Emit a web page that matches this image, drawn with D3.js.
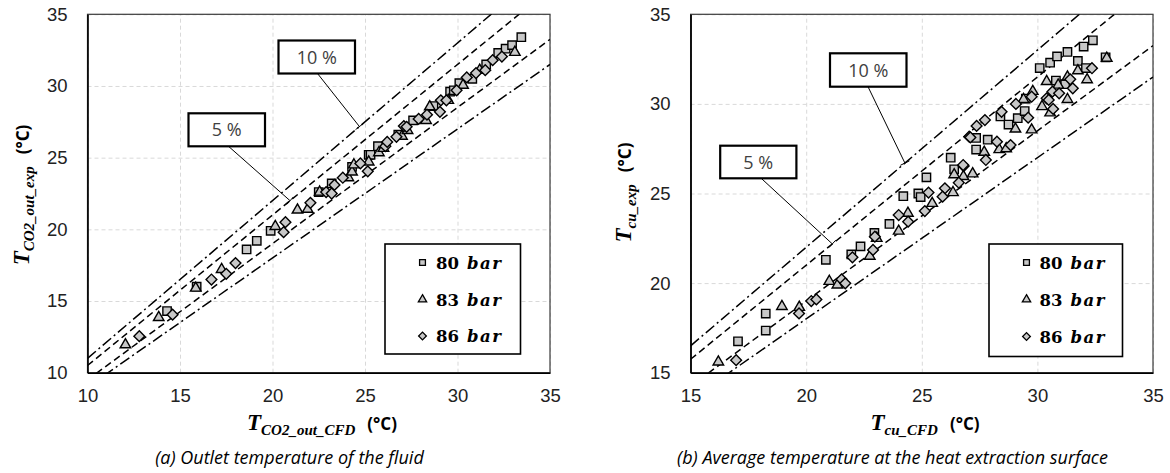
<!DOCTYPE html>
<html>
<head>
<meta charset="utf-8">
<script src="https://cdn.jsdelivr.net/npm/d3@7"></script>
<style>
  body { margin: 0; background: #fff; }
  svg { display: block; }
</style>
</head>
<body>
<svg id="chart" width="1170" height="473"></svg>
<script>
// panel (a): outlet temperature of the fluid
var a80x = [14.3, 15.9, 18.6, 19.15, 19.9, 22.5, 23.2, 24.3, 25.2, 25.3, 25.7, 26.8, 27.6, 28.7, 29.6, 29.8, 30.1, 30.8, 31.55, 32.2, 32.6, 32.95, 33.45];
var a80y = [14.3, 16.0, 18.6, 19.2, 19.9, 22.6, 23.2, 24.35, 25.2, 25.2, 25.8, 26.6, 27.6, 28.6, 29.6, 29.7, 30.2, 30.5, 31.5, 32.3, 32.6, 32.85, 33.4];
var a83x = [12.05, 13.85, 15.85, 17.25, 20.15, 21.35, 21.9, 22.55, 24.1, 24.3, 24.4, 25.2, 25.75, 26.0, 27.0, 27.3, 28.3, 28.5, 29.5, 30.3, 31.2, 33.1];
var a83y = [11.95, 13.85, 15.9, 17.2, 20.2, 21.35, 21.4, 22.6, 23.6, 24.0, 24.5, 24.7, 25.35, 25.65, 26.5, 26.9, 27.6, 28.55, 29.0, 30.05, 31.1, 32.35];
var a86x = [12.8, 14.6, 16.7, 17.5, 18.0, 20.6, 20.7, 22.05, 22.9, 23.2, 23.35, 23.8, 24.75, 25.15, 26.1, 26.2, 26.7, 27.1, 27.25, 27.9, 28.35, 29.05, 29.1, 29.4, 29.95, 30.5, 31.0, 31.5, 31.9, 32.4];
var a86y = [12.55, 14.05, 16.5, 16.9, 17.65, 19.8, 20.5, 21.85, 22.6, 22.5, 23.1, 23.6, 24.6, 24.05, 25.8, 26.1, 26.45, 27.2, 27.15, 27.7, 28.0, 28.2, 29.0, 29.0, 29.7, 30.6, 30.9, 31.1, 31.8, 32.05];

// panel (b): average temperature at the heat extraction surface
var b80x = [17.05, 18.25, 18.25, 20.85, 21.95, 22.35, 22.95, 23.6, 24.2, 24.85, 24.95, 25.2, 26.25, 26.4, 27.35, 27.35, 27.85, 28.4, 28.75, 29.15, 29.45, 29.5, 30.1, 30.55, 30.8, 30.85, 31.2, 31.3, 31.75, 32.0, 32.1, 32.4, 32.95];
var b80y = [16.75, 17.35, 18.3, 21.3, 21.6, 22.05, 22.8, 23.3, 24.85, 25.0, 24.8, 25.9, 27.0, 26.35, 27.45, 28.1, 28.0, 29.3, 28.85, 29.2, 29.6, 30.3, 32.0, 32.3, 31.3, 32.65, 31.1, 32.9, 32.4, 33.2, 32.0, 33.55, 32.6];
var b83x = [16.2, 18.95, 19.7, 21.0, 21.35, 22.75, 23.05, 24.0, 24.4, 25.45, 26.35, 26.4, 26.8, 27.2, 27.7, 28.35, 28.65, 29.05, 29.4, 29.75, 29.8, 30.2, 30.4, 30.55, 30.9, 31.3, 31.3, 31.75, 32.15, 33.0];
var b83y = [15.6, 18.7, 18.65, 20.1, 19.9, 21.5, 22.5, 22.9, 23.9, 24.45, 25.05, 26.05, 25.95, 26.1, 27.3, 27.45, 27.5, 28.6, 30.25, 28.55, 30.7, 29.85, 31.25, 29.5, 31.05, 31.5, 30.25, 31.85, 31.35, 32.55];
var b86x = [16.97, 19.69, 20.22, 20.44, 21.53, 21.69, 22.0, 22.89, 22.97, 24.0, 24.41, 25.13, 25.29, 26.0, 25.9, 26.81, 26.6, 26.79, 27.05, 27.1, 27.37, 27.73, 28.25, 28.84, 27.77, 28.45, 29.07, 29.75, 29.6, 30.4, 30.65, 30.68, 30.94, 30.49, 31.53, 31.42, 32.36];
var b86y = [15.7, 18.31, 19.0, 19.09, 20.21, 19.99, 21.44, 21.85, 22.59, 23.8, 23.43, 24.02, 25.05, 25.29, 24.82, 26.53, 25.6, 26.59, 28.17, 28.13, 28.77, 29.1, 27.89, 27.7, 26.87, 29.56, 30.0, 30.4, 29.23, 30.31, 30.68, 29.72, 30.59, 30.22, 30.87, 31.37, 31.99];

var ticksA = [10, 15, 20, 25, 30, 35];
var ticksB = [15, 20, 25, 30, 35];
var bandFactors = [1.1, 1.05, 0.95, 0.9];   // +-10 %, +-5 %
var pressures = ["80", "83", "86"];
var bandLabels = ["10 %", "5 %"];

var svg = d3.select("#chart");
svg.append("rect").attr("width", 1170).attr("height", 473).attr("fill", "#fff");

var shapes = [d3.symbolSquare, d3.symbolTriangle, d3.symbolSquare];
var sizes = [70, 48, 58];
var legendSizes = [34, 30, 30];
var rotations = [0, 0, 45];

function drawPanel(p) {
    var x = d3.scaleLinear().domain(p.domain).range([p.left, p.right]);
    var y = d3.scaleLinear().domain(p.domain).range([p.bottom, p.top]);
    var g = svg.append("g");
    var w = p.right - p.left, h = p.bottom - p.top;

    // grid
    g.append("g")
        .attr("transform", "translate(0," + p.bottom + ")")
        .call(d3.axisBottom(x).tickValues(p.ticks).tickSize(-h).tickFormat(""))
        .call(function (s) { s.select(".domain").remove(); })
        .selectAll("line").attr("stroke", "#d9d9d9").attr("stroke-dasharray", "4,3");
    g.append("g")
        .attr("transform", "translate(" + p.left + ",0)")
        .call(d3.axisLeft(y).tickValues(p.ticks).tickSize(-w).tickFormat(""))
        .call(function (s) { s.select(".domain").remove(); })
        .selectAll("line").attr("stroke", "#d9d9d9").attr("stroke-dasharray", "4,3");

    // frame
    g.append("rect").attr("x", p.left).attr("y", p.top).attr("width", w).attr("height", h)
        .attr("fill", "none").attr("stroke", "#3a3a3a").attr("stroke-width", 1.2);

    // tick labels
    var xa = g.append("g").attr("transform", "translate(0," + p.bottom + ")")
        .call(d3.axisBottom(x).tickValues(p.ticks).tickSize(0).tickPadding(16));
    var ya = g.append("g").attr("transform", "translate(" + p.left + ",0)")
        .call(d3.axisLeft(y).tickValues(p.ticks).tickSize(0).tickPadding(20));
    [xa, ya].forEach(function (a) {
        a.select(".domain").attr("stroke", "#000").attr("stroke-width", 1.6);
        a.selectAll("text").attr("font-family", "Liberation Sans").attr("font-size", 18.5).attr("fill", "#222");
    });

    // error band lines
    var clipId = "clip" + p.id;
    svg.append("clipPath").attr("id", clipId).append("rect")
        .attr("x", p.left).attr("y", p.top).attr("width", w).attr("height", h);
    var line = d3.line().x(function (d) { return x(d[0]); }).y(function (d) { return y(d[1]); });
    g.append("g").attr("clip-path", "url(#" + clipId + ")")
        .selectAll("path").data(bandFactors).enter().append("path")
        .attr("d", function (k) { return line([[p.domain[0], k * p.domain[0]], [p.domain[1], k * p.domain[1]]]); })
        .attr("fill", "none").attr("stroke", "#000").attr("stroke-width", 1.5)
        .attr("stroke-dasharray", function (k) { return Math.abs(k - 1) > 0.07 ? "11,3.5,2,3.5" : "7,4"; });

    // band labels with leader lines
    p.notes.forEach(function (n, i) {
        var k = i === 0 ? 1.1 : 1.05;
        var ex = x(n.at), ey = y(k * n.at);
        var sx = n.bx + n.lead, sy = n.by + n.bh;
        g.append("line").attr("x1", sx).attr("y1", sy).attr("x2", ex).attr("y2", ey)
            .attr("stroke", "#000").attr("stroke-width", 1);
        var dx = ex - sx, dy = ey - sy, len = Math.sqrt(dx * dx + dy * dy);
        var nx = -dy / len * 5, ny = dx / len * 5;
        g.append("line").attr("x1", ex - nx).attr("y1", ey - ny).attr("x2", ex + nx).attr("y2", ey + ny)
            .attr("stroke", "#000").attr("stroke-width", 1);
        g.append("rect").attr("x", n.bx).attr("y", n.by).attr("width", n.bw).attr("height", n.bh)
            .attr("fill", "#fff").attr("stroke", "#000").attr("stroke-width", 2.2);
        g.append("text").attr("x", n.bx + n.bw / 2).attr("y", n.by + n.bh / 2 + 6.5)
            .attr("text-anchor", "middle").attr("font-family", "Open Sans").attr("font-size", 18)
            .attr("fill", "#404040").text(bandLabels[i]);
    });

    // markers
    p.series.forEach(function (s, i) {
        var pts = s[0].map(function (v, j) { return [v, s[1][j]]; });
        g.append("g").selectAll("path").data(pts).enter().append("path")
            .attr("d", d3.symbol().type(shapes[i]).size(sizes[i]))
            .attr("transform", function (d) {
                return "translate(" + x(d[0]) + "," + y(d[1]) + ") rotate(" + rotations[i] + ")";
            })
            .attr("fill", "#c8c8c8").attr("stroke", "#000").attr("stroke-width", 1.4);
    });

    // legend
    var L = p.legend;
    g.append("rect").attr("x", L.x).attr("y", L.y).attr("width", L.w).attr("height", L.h)
        .attr("fill", "#fff").attr("stroke", "#000").attr("stroke-width", 1.6);
    pressures.forEach(function (name, i) {
        var ry = L.rows[i];
        g.append("path").attr("d", d3.symbol().type(shapes[i]).size(legendSizes[i]))
            .attr("transform", "translate(" + L.mx + "," + ry + ") rotate(" + rotations[i] + ")")
            .attr("fill", "#c8c8c8").attr("stroke", "#000").attr("stroke-width", 1.3);
        var t = g.append("text").attr("x", L.tx).attr("y", ry + 6)
            .attr("font-family", "DejaVu Serif").attr("font-weight", "bold").attr("font-size", 16.5).attr("fill", "#000");
        t.append("tspan").text(name);
        t.append("tspan").attr("dx", 8).attr("font-style", "italic").attr("letter-spacing", 1.5).text("bar");
    });

    // axis titles
    function title(sel, sub) {
        sel.append("tspan").attr("font-family", "Liberation Serif").attr("font-weight", "bold")
            .attr("font-style", "italic").attr("font-size", 23).text("T");
        sel.append("tspan").attr("font-family", "Liberation Serif").attr("font-weight", "bold")
            .attr("font-style", "italic").attr("font-size", 15).attr("dy", 5).text(sub);
        sel.append("tspan").attr("font-family", "Open Sans").attr("font-weight", "bold")
            .attr("font-size", 17).attr("dx", 12).attr("dy", -5).text("(°C)");
    }
    title(g.append("text").attr("x", p.xtX).attr("y", 430).attr("text-anchor", "middle").attr("fill", "#000"), p.xsub);
    title(g.append("text").attr("transform", "translate(" + p.ytX + "," + p.ytY + ") rotate(-90)")
        .attr("text-anchor", "middle").attr("fill", "#000"), p.ysub);

    // caption
    g.append("text").attr("x", p.capX).attr("y", 464).attr("text-anchor", "middle")
        .attr("font-family", "Open Sans").attr("font-style", "italic").attr("font-size", 18)
        .attr("fill", "#000").text(p.caption);
}

drawPanel({
    id: "a", domain: [10, 35], ticks: ticksA,
    left: 87.5, right: 550, top: 14.3, bottom: 372.7,
    series: [[a80x, a80y], [a83x, a83y], [a86x, a86y]],
    notes: [
        { at: 24.7, bx: 278.5, by: 40.5, bw: 76.5, bh: 33, lead: 39 },
        { at: 20.95, bx: 188.5, by: 113.3, bw: 76.5, bh: 33, lead: 40 }
    ],
    legend: { x: 385, y: 244, w: 135.5, h: 110, mx: 422.5, tx: 436, rows: [262.5, 299.5, 336] },
    xsub: "CO2_out_CFD", ysub: "CO2_out_exp",
    xtX: 322, ytX: 29, ytY: 195,
    capX: 289.5, caption: "(a) Outlet temperature of the fluid"
});

drawPanel({
    id: "b", domain: [15, 35], ticks: ticksB,
    left: 690.6, right: 1153, top: 14.3, bottom: 372.7,
    series: [[b80x, b80y], [b83x, b83y], [b86x, b86y]],
    notes: [
        { at: 24.27, bx: 830, by: 53.3, bw: 76.5, bh: 33.4, lead: 38 },
        { at: 21.13, bx: 720.2, by: 145.7, bw: 76.2, bh: 32.6, lead: 41 }
    ],
    legend: { x: 989, y: 244, w: 133.5, h: 112.5, mx: 1026.5, tx: 1039.5, rows: [262.5, 299.5, 336.5] },
    xsub: "cu_CFD", ysub: "cu_exp",
    xtX: 925, ytX: 631, ytY: 192.5,
    capX: 892.5, caption: "(b) Average temperature at the heat extraction surface"
});
</script>
</body>
</html>
